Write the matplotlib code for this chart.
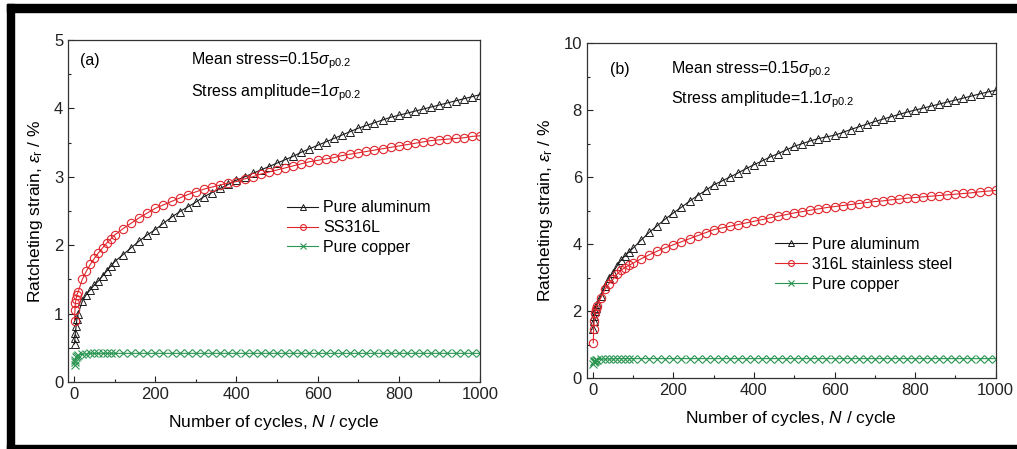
import numpy as np
import matplotlib
matplotlib.use('Agg')
import matplotlib.pyplot as plt
from matplotlib.patches import Rectangle
from matplotlib.ticker import MultipleLocator

plt.rcParams['font.family'] = ['Liberation Sans', 'DejaVu Sans']
plt.rcParams['mathtext.fontset'] = 'custom'
plt.rcParams['mathtext.rm'] = 'Liberation Sans'
plt.rcParams['mathtext.it'] = 'Liberation Sans:italic'

# cycle numbers at which markers are drawn
cycles = [1, 2, 3, 5, 7, 10, 20, 30, 40, 50, 60, 70, 80, 90, 100,
          120, 140, 160, 180, 200, 220, 240, 260, 280, 300,
          320, 340, 360, 380, 400, 420, 440, 460, 480, 500,
          520, 540, 560, 580, 600, 620, 640, 660, 680, 700,
          720, 740, 760, 780, 800, 820, 840, 860, 880, 900,
          920, 940, 960, 980, 1000]

# (a) stress amplitude = 1 sigma_p0.2
al_a = [0.56, 0.65, 0.72, 0.82, 0.92, 1.0, 1.18, 1.28, 1.35, 1.42, 1.48, 1.55, 1.62, 1.69, 1.76,
        1.86, 1.96, 2.06, 2.15, 2.23, 2.32, 2.41, 2.49, 2.56, 2.63,
        2.71, 2.77, 2.83, 2.89, 2.95, 3.0, 3.05, 3.1, 3.15, 3.2,
        3.25, 3.3, 3.36, 3.41, 3.46, 3.51, 3.56, 3.61, 3.66, 3.71,
        3.75, 3.79, 3.83, 3.87, 3.9, 3.93, 3.96, 3.99, 4.02, 4.05,
        4.08, 4.11, 4.14, 4.17, 4.2]
ss_a = [0.9, 1.05, 1.15, 1.22, 1.28, 1.32, 1.5, 1.62, 1.72, 1.81, 1.89, 1.96, 2.03, 2.09, 2.15,
        2.24, 2.32, 2.4, 2.47, 2.54, 2.59, 2.64, 2.69, 2.74, 2.78,
        2.82, 2.85, 2.88, 2.91, 2.93, 2.97, 3.0, 3.04, 3.07, 3.1,
        3.13, 3.16, 3.19, 3.22, 3.24, 3.26, 3.28, 3.31, 3.33, 3.35,
        3.37, 3.39, 3.41, 3.43, 3.45, 3.47, 3.49, 3.51, 3.53, 3.54,
        3.55, 3.56, 3.57, 3.59, 3.6]
cu_a = [0.25, 0.3, 0.33, 0.36, 0.38, 0.39, 0.41, 0.41, 0.42, 0.42, 0.42, 0.42, 0.42, 0.42, 0.42,
        0.42, 0.42, 0.42, 0.42, 0.42, 0.42, 0.42, 0.42, 0.42, 0.42,
        0.42, 0.42, 0.42, 0.42, 0.42, 0.42, 0.42, 0.42, 0.42, 0.42,
        0.42, 0.42, 0.42, 0.42, 0.42, 0.42, 0.42, 0.42, 0.42, 0.42,
        0.42, 0.42, 0.42, 0.42, 0.42, 0.42, 0.42, 0.42, 0.42, 0.42,
        0.42, 0.42, 0.42, 0.42, 0.42]

# (b) stress amplitude = 1.1 sigma_p0.2
al_b = [1.45, 1.7, 1.85, 2.0, 2.1, 2.2, 2.45, 2.75, 3.0, 3.15, 3.35, 3.52, 3.65, 3.77, 3.88,
        4.12, 4.35, 4.55, 4.75, 4.93, 5.1, 5.28, 5.45, 5.6, 5.77,
        5.88, 6.0, 6.12, 6.25, 6.37, 6.48, 6.6, 6.7, 6.81, 6.92,
        7.0, 7.08, 7.15, 7.2, 7.25, 7.33, 7.42, 7.5, 7.58, 7.66,
        7.73, 7.8, 7.87, 7.94, 8.0, 8.06, 8.12, 8.18, 8.24, 8.3,
        8.36, 8.42, 8.48, 8.54, 8.59]
ss_b = [1.05, 1.45, 1.7, 1.95, 2.05, 2.15, 2.4, 2.65, 2.82, 2.95, 3.1, 3.22, 3.3, 3.37, 3.43,
        3.56, 3.68, 3.79, 3.89, 3.98, 4.07, 4.16, 4.25, 4.34, 4.43,
        4.48, 4.53, 4.58, 4.63, 4.68, 4.73, 4.78, 4.83, 4.88, 4.93,
        4.97, 5.01, 5.05, 5.09, 5.12, 5.15, 5.18, 5.21, 5.24, 5.27,
        5.29, 5.32, 5.34, 5.37, 5.39, 5.41, 5.43, 5.45, 5.47, 5.49,
        5.51, 5.53, 5.56, 5.58, 5.6]
cu_b = [0.42, 0.47, 0.5, 0.52, 0.54, 0.55, 0.56, 0.57, 0.57, 0.57, 0.58, 0.58, 0.58, 0.58, 0.58,
        0.58, 0.58, 0.58, 0.58, 0.58, 0.58, 0.58, 0.58, 0.58, 0.58,
        0.58, 0.58, 0.58, 0.58, 0.58, 0.58, 0.58, 0.58, 0.58, 0.58,
        0.58, 0.58, 0.58, 0.58, 0.58, 0.58, 0.58, 0.58, 0.58, 0.58,
        0.58, 0.58, 0.58, 0.58, 0.58, 0.58, 0.58, 0.58, 0.58, 0.58,
        0.58, 0.58, 0.58, 0.58, 0.58]

BLACK = '#1a1a1a'
RED = '#e0252c'
GREEN = '#2a9652'

fig = plt.figure(figsize=(10.17, 4.49), dpi=100)
fig.patch.set_facecolor('white')

# black frame around the picture (left, top, bottom)
fig.add_artist(Rectangle((7 / 1017, 0), 7 / 1017, 1 - 4 / 449, transform=fig.transFigure,
                         color='black', zorder=10))
fig.add_artist(Rectangle((7 / 1017, 1 - 12 / 449), 1, 8 / 449, transform=fig.transFigure,
                         color='black', zorder=10))
fig.add_artist(Rectangle((7 / 1017, 0), 1, 4 / 449, transform=fig.transFigure,
                         color='black', zorder=10))

ax_a = fig.add_axes([0.0669, 0.149, 0.405, 0.762])
ax_b = fig.add_axes([0.577, 0.158, 0.402, 0.746])


def draw(ax, al, ss, cu, ss_name, ymax, ymajor, amp, tag, tag_x, txt_x, txt_y, leg_pos):
    ax.plot(cycles, al, color=BLACK, lw=0.8, marker='^', ms=6, mfc='none',
            mew=0.7, label='Pure aluminum')
    ax.plot(cycles, ss, color=RED, lw=0.8, marker='o', ms=6, mfc='none',
            mew=0.8, label=ss_name)
    ax.plot(cycles, cu, color=GREEN, lw=0.8, marker='x', ms=5.5,
            mew=0.8, label='Pure copper')
    ax.set_xlim(-15, 1000)
    ax.set_ylim(0, ymax)
    ax.xaxis.set_major_locator(MultipleLocator(200))
    ax.xaxis.set_minor_locator(MultipleLocator(100))
    ax.yaxis.set_major_locator(MultipleLocator(ymajor))
    ax.yaxis.set_minor_locator(MultipleLocator(ymajor / 2))
    ax.tick_params(which='both', direction='in', top=False, right=False,
                   labelsize=12, colors='#222222')
    ax.tick_params(which='major', length=4, width=0.8)
    ax.tick_params(which='minor', length=2.5, width=0.8)
    for s in ax.spines.values():
        s.set_linewidth(0.9)
        s.set_color('#333333')
    ax.set_xlabel(r'Number of cycles, $\it{N}$ / cycle', fontsize=12.5, labelpad=8)
    ax.set_ylabel(r'Ratcheting strain, $\varepsilon_{\rm r}$ / %', fontsize=12.5, labelpad=6)
    ax.text(tag_x, txt_y[0], tag, transform=ax.transAxes, fontsize=11.5, va='center')
    ax.text(txt_x, txt_y[0], r'Mean stress=0.15$\sigma_{\rm p0.2}$',
            transform=ax.transAxes, fontsize=11.5, va='center')
    ax.text(txt_x, txt_y[1], r'Stress amplitude=' + amp + r'$\sigma_{\rm p0.2}$',
            transform=ax.transAxes, fontsize=11.5, va='center')
    leg = ax.legend(loc='upper left', bbox_to_anchor=leg_pos, frameon=False,
                    fontsize=11.5, handlelength=2.0, handletextpad=0.3,
                    labelspacing=0.3, borderaxespad=0, markerscale=0.7)
    return leg


draw(ax_a, al_a, ss_a, cu_a, 'SS316L', 5, 1, '1', '(a)',
     0.03, 0.298, (0.94, 0.845), (0.515, 0.55))
draw(ax_b, al_b, ss_b, cu_b, '316L stainless steel', 10, 2, '1.1', '(b)',
     0.056, 0.205, (0.92, 0.83), (0.445, 0.44))

fig.savefig('out.png', dpi=100)
